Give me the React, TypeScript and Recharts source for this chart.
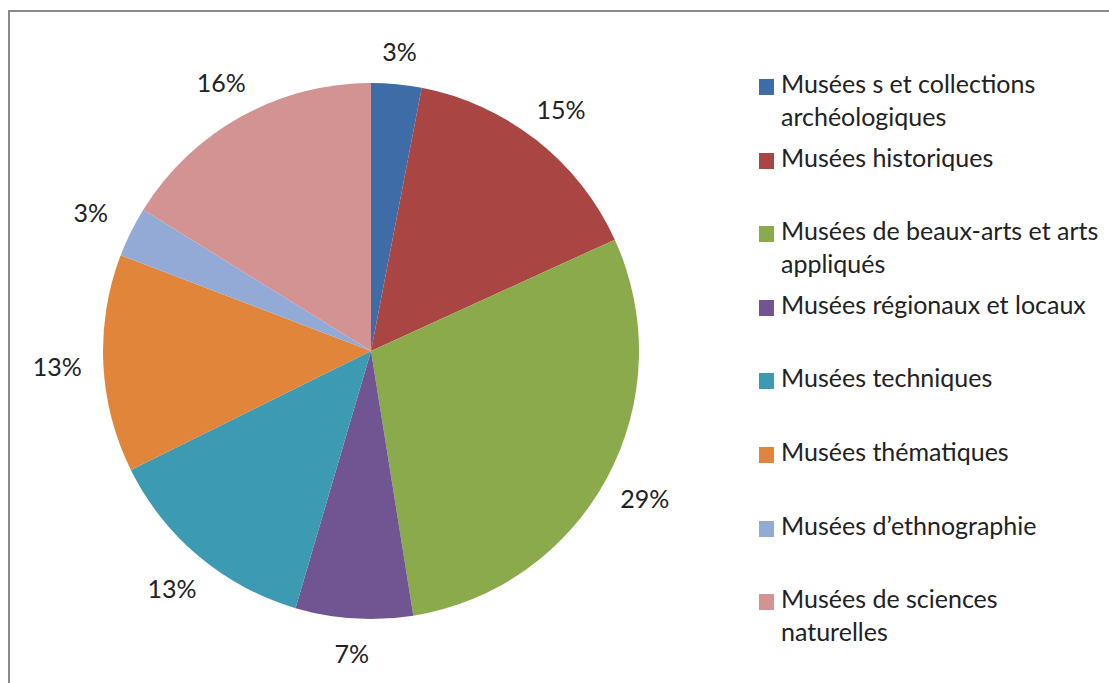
import { PieChart, Pie, Cell, Legend } from 'recharts';

const categories = [
    'Musées s et collections\narchéologiques',
    'Musées historiques',
    'Musées de beaux-arts et arts\nappliqués',
    'Musées régionaux et locaux',
    'Musées techniques',
    'Musées thématiques',
    'Musées d\u2019ethnographie',
    'Musées de sciences\nnaturelles',
];
const shares = [3, 15, 29, 7, 13, 13, 3, 16];
const COLORS = ['#3E6CA6', '#A94644', '#8AAA4B', '#705592', '#3C9AB3', '#E0853A', '#93AAD7', '#D39393'];

const data = categories.map((name, i) => ({ name, value: shares[i] }));

const FONT = 'Lato, "Open Sans", sans-serif';
const RAD = Math.PI / 180;

function renderLabel(props: any) {
    const { cx, cy, midAngle, outerRadius, value } = props;
    const c = Math.cos(-midAngle * RAD);
    const s = Math.sin(-midAngle * RAD);
    const r = outerRadius + 32 + 12 * Math.abs(c) + (c < 0 ? 2 : 0);
    return (
        <text
            x={cx + r * c}
            y={cy + r * s}
            textAnchor="middle"
            dominantBaseline="central"
            fontSize={25}
            fontFamily={FONT}
            fill="#222"
        >
            {value}%
        </text>
    );
}

// legend keeps the series order, not the library's alphabetical sort
function renderLegend() {
    return (
        <div style={{ position: 'relative', width: 350, height: 683 }}>
            {categories.map((name, i) => (
                <div
                    key={`legend-${i}`}
                    style={{ position: 'absolute', left: 0, top: 79 + i * 73.6 - 8, display: 'flex' }}
                >
                    <div style={{ width: 15, height: 16, background: COLORS[i], marginTop: 8, marginRight: 7, flexShrink: 0 }} />
                    <div
                        style={{
                            whiteSpace: 'pre',
                            fontSize: 25,
                            lineHeight: '33px',
                            fontFamily: FONT,
                            color: '#222',
                            marginTop: -4,
                        }}
                    >
                        {name}
                    </div>
                </div>
            ))}
        </div>
    );
}

export default function App() {
    return (
        <div style={{ position: 'relative', width: 1109, height: 683, overflow: 'hidden', background: '#fff' }}>
            <style>{`body{margin:0;overflow:hidden}`}</style>
            <div
                style={{
                    position: 'absolute',
                    left: 8,
                    top: 10,
                    width: 1200,
                    height: 800,
                    border: '2px solid #8a8a8a',
                    pointerEvents: 'none',
                }}
            />
            <PieChart width={1109} height={683} margin={{ top: 0, right: 0, bottom: 0, left: 0 }}>
                <Pie
                    data={data}
                    cx={371}
                    cy={351}
                    outerRadius={268}
                    startAngle={90}
                    endAngle={-270}
                    dataKey="value"
                    stroke="none"
                    labelLine={false}
                    label={renderLabel}
                    isAnimationActive={false}
                >
                    {data.map((entry, index) => (
                        <Cell key={`cell-${index}`} fill={COLORS[index % COLORS.length]} />
                    ))}
                </Pie>
                <Legend
                    layout="vertical"
                    content={renderLegend}
                    wrapperStyle={{ position: 'absolute', left: 759, top: 0, width: 350, height: 683 }}
                />
            </PieChart>
        </div>
    );
}
